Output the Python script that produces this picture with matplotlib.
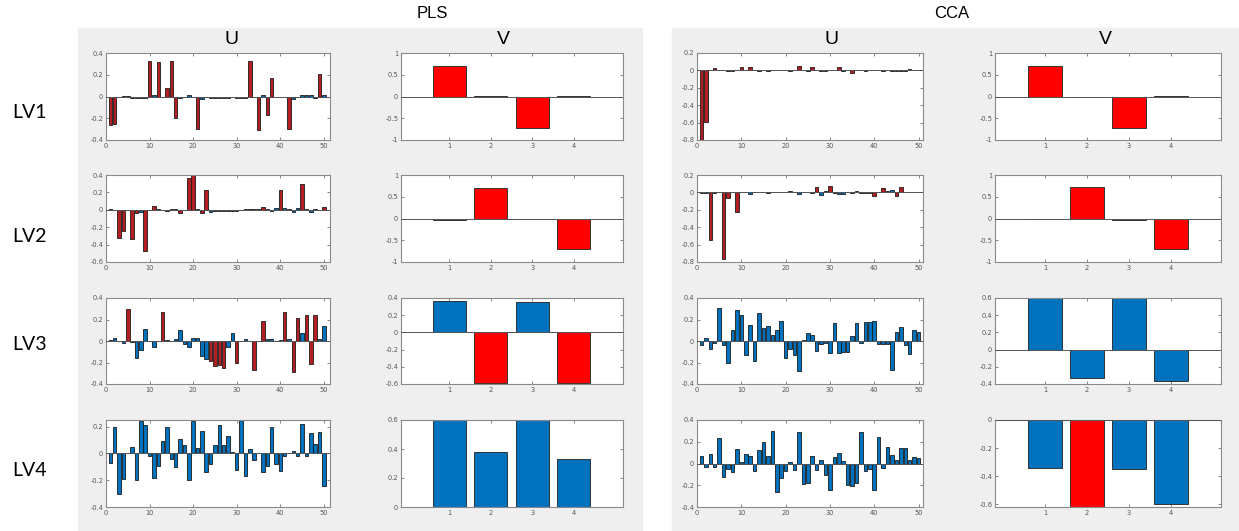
import numpy as np
import matplotlib.pyplot as plt
from matplotlib.patches import Rectangle
from matplotlib.ticker import FuncFormatter

# ---- data ----
idx = np.arange(1, 51)
comp = np.arange(1, 5)

pls_u1 = [-0.26, -0.25, 0.0, 0.005, 0.005, -0.01, -0.01, -0.01, -0.01, 0.33,
          0.01, 0.32, 0.0, 0.08, 0.33, -0.2, -0.01, 0.0, 0.01, 0.0,
          -0.30, -0.02, -0.005, -0.01, -0.01, -0.01, -0.01, -0.01, 0.0, -0.01,
          -0.01, -0.01, 0.33, 0.0, -0.31, 0.01, -0.17, 0.17, 0.0, 0.0,
          0.0, -0.30, -0.02, 0.0, 0.01, 0.01, 0.01, -0.01, 0.21, 0.01]
pls_u2 = [0.01, 0.0, -0.32, -0.24, 0.0, -0.34, -0.04, -0.02, -0.47, 0.0,
          0.04, 0.01, 0.0, -0.01, 0.01, 0.01, -0.04, 0.0, 0.36, 0.40,
          0.01, -0.04, 0.23, -0.02, -0.01, -0.01, -0.01, -0.01, -0.01, -0.01,
          0.0, 0.01, 0.01, 0.01, 0.01, 0.03, 0.01, -0.01, 0.02, 0.23,
          0.02, 0.01, -0.02, 0.02, 0.30, 0.01, -0.02, 0.01, 0.0, 0.03]
pls_u3 = [0.01, 0.03, 0.0, -0.02, 0.30, -0.01, -0.16, -0.08, 0.11, 0.0,
          -0.06, 0.0, 0.27, 0.01, 0.0, 0.02, 0.10, -0.03, -0.06, 0.03,
          0.03, -0.14, -0.17, -0.19, -0.23, -0.22, -0.25, -0.06, 0.07, -0.20,
          0.0, 0.02, 0.0, -0.27, 0.0, 0.19, 0.02, 0.02, 0.0, 0.01,
          0.27, 0.02, -0.29, 0.21, 0.07, 0.24, -0.21, 0.24, 0.02, 0.14]
pls_u4 = [-0.07, 0.20, -0.30, -0.19, 0.0, 0.05, -0.20, 0.24, 0.21, -0.02,
          -0.18, -0.09, 0.09, 0.20, -0.04, -0.10, 0.11, 0.06, -0.20, 0.24,
          0.04, 0.17, -0.14, -0.08, 0.06, 0.21, 0.06, 0.13, 0.01, -0.12,
          0.25, -0.17, 0.03, -0.05, 0.0, -0.14, -0.09, 0.20, -0.08, -0.13,
          -0.02, 0.0, 0.02, -0.02, 0.22, -0.02, 0.15, 0.07, 0.16, -0.24]
cca_u1 = [-0.80, -0.59, 0.01, 0.03, 0.01, 0.0, -0.01, -0.01, 0.01, 0.04,
          0.01, 0.04, 0.01, -0.01, 0.0, -0.01, 0.0, 0.01, 0.01, 0.0,
          -0.01, 0.0, 0.05, 0.0, -0.01, 0.04, 0.0, -0.01, -0.01, 0.0,
          0.01, 0.04, -0.01, 0.0, -0.03, 0.01, 0.0, -0.01, 0.0, 0.01,
          0.0, -0.01, 0.01, -0.01, -0.01, -0.01, -0.01, 0.02, 0.0, 0.0]
cca_u2 = [-0.01, -0.01, -0.55, -0.01, 0.0, -0.77, -0.07, 0.01, -0.23, 0.01,
          0.01, -0.02, 0.01, 0.01, 0.0, -0.01, 0.0, 0.01, 0.0, 0.0,
          0.02, 0.0, -0.02, 0.0, 0.0, -0.01, 0.06, -0.03, 0.02, 0.07,
          -0.01, -0.02, -0.02, 0.01, -0.01, 0.02, -0.01, -0.01, -0.01, -0.04,
          0.01, 0.05, 0.02, 0.03, -0.04, 0.06, 0.01, 0.01, 0.0, 0.0]
cca_u3 = [-0.04, 0.03, -0.07, -0.02, 0.31, -0.04, -0.20, 0.10, 0.29, 0.24,
          -0.13, 0.15, -0.19, 0.26, 0.12, 0.14, 0.06, 0.10, 0.19, -0.16,
          -0.07, -0.13, -0.28, 0.01, 0.07, 0.06, -0.09, -0.03, -0.02, -0.11,
          0.17, -0.11, -0.10, -0.10, 0.05, 0.17, -0.02, 0.18, 0.18, 0.19,
          -0.03, -0.03, -0.03, -0.27, 0.08, 0.13, -0.04, -0.12, 0.10, 0.08]
cca_u4 = [0.07, -0.03, 0.09, -0.03, 0.23, -0.12, -0.05, -0.08, 0.13, 0.01,
          0.09, 0.07, -0.07, 0.12, 0.20, 0.07, 0.30, -0.26, -0.13, -0.07,
          0.01, -0.06, 0.29, -0.19, -0.18, 0.07, -0.06, 0.03, -0.11, -0.24,
          0.06, 0.10, 0.02, -0.20, -0.21, -0.18, 0.29, -0.07, -0.05, -0.24,
          0.24, -0.04, 0.15, 0.08, 0.03, 0.14, 0.14, 0.03, 0.06, 0.05]

pls_v = [[0.71, 0.02, -0.72, 0.005],
         [-0.04, 0.71, -0.02, -0.71],
         [0.37, -0.59, 0.35, -0.59],
         [0.60, 0.38, 0.60, 0.33]]
cca_v = [[0.71, 0.0, -0.73, 0.01],
         [-0.01, 0.72, -0.03, -0.71],
         [0.60, -0.33, 0.60, -0.37],
         [-0.34, -0.62, -0.35, -0.60]]

# indices of highlighted (red) bars
pls_u_red = [[1, 2, 10, 12, 14, 15, 16, 21, 33, 35, 37, 38, 42, 49],
             [3, 4, 6, 7, 9, 11, 17, 19, 20, 22, 23, 36, 40, 45, 50],
             [5, 13, 24, 25, 26, 27, 30, 34, 36, 41, 43, 44, 46, 47, 48],
             []]
cca_u_red = [[1, 2, 4, 10, 12, 23, 26, 32, 35],
             [3, 6, 7, 9, 27, 30, 40, 42, 45, 46],
             [], []]
pls_v_red = [[1, 3], [2, 4], [2, 4], []]
cca_v_red = [[1, 3], [2, 4], [], [2]]

pls_u = [pls_u1, pls_u2, pls_u3, pls_u4]
cca_u = [cca_u1, cca_u2, cca_u3, cca_u4]

pls_u_ylim = [(-0.4, 0.4), (-0.6, 0.4), (-0.4, 0.4), (-0.4, 0.25)]
pls_u_yt = [[-0.4, -0.2, 0, 0.2, 0.4], [-0.6, -0.4, -0.2, 0, 0.2, 0.4],
            [-0.4, -0.2, 0, 0.2, 0.4], [-0.4, -0.2, 0, 0.2]]
cca_u_ylim = [(-0.8, 0.2), (-0.8, 0.2), (-0.4, 0.4), (-0.4, 0.4)]
cca_u_yt = [[-0.8, -0.6, -0.4, -0.2, 0, 0.2], [-0.8, -0.6, -0.4, -0.2, 0, 0.2],
            [-0.4, -0.2, 0, 0.2, 0.4], [-0.4, -0.2, 0, 0.2, 0.4]]
pls_v_ylim = [(-1, 1), (-1, 1), (-0.6, 0.4), (0, 0.6)]
pls_v_yt = [[-1, -0.5, 0, 0.5, 1], [-1, -0.5, 0, 0.5, 1],
            [-0.6, -0.4, -0.2, 0, 0.2, 0.4], [0, 0.2, 0.4, 0.6]]
cca_v_ylim = [(-1, 1), (-1, 1), (-0.4, 0.6), (-0.62, 0)]
cca_v_yt = [[-1, -0.5, 0, 0.5, 1], [-1, -0.5, 0, 0.5, 1],
            [-0.4, -0.2, 0, 0.2, 0.4, 0.6], [-0.6, -0.4, -0.2, 0]]

# ---- layout ----
W, H = 1239, 531
BLUE = "#0072BD"
RED_U = "#B21E22"
RED_V = "#FF0000"
BG = "#EFEFEF"

fig = plt.figure(figsize=(W / 100, H / 100), dpi=100)
fig.patch.set_facecolor("white")

def box(x0, y0, x1, y1):
    return [x0 / W, 1 - y1 / H, (x1 - x0) / W, (y1 - y0) / H]

# grey panels behind the axes
fig.patches.append(Rectangle((78 / W, 0), (642 - 78) / W, 1 - 28 / H,
                             transform=fig.transFigure, color=BG, zorder=-5))
fig.patches.append(Rectangle((672 / W, 0), (W - 672) / W, 1 - 28 / H,
                             transform=fig.transFigure, color=BG, zorder=-5))

rows = [(53, 140), (175, 262), (298, 384), (420, 507)]
fmt = FuncFormatter(lambda v, p: f"{v:g}")


def style(ax, yl, yt):
    ax.set_ylim(*yl)
    ax.set_yticks(yt)
    ax.yaxis.set_major_formatter(fmt)
    ax.tick_params(direction="in", length=2, width=0.5, labelsize=4.8,
                   colors="#555555", top=True, right=True, pad=2)
    for s in ax.spines.values():
        s.set_color("#8a8a8a")
        s.set_linewidth(0.8)
    ax.axhline(0, color="#555555", lw=0.7, zorder=3)


def u_panel(x0, x1, r, vals, red, yl, yt, xmax):
    ax = fig.add_axes(box(x0, rows[r][0], x1, rows[r][1]))
    cols = [RED_U if i in red else BLUE for i in idx]
    ax.bar(idx, vals, width=0.8, color=cols, edgecolor="#1a1a1a", linewidth=0.6, zorder=2)
    ax.set_xlim(0, xmax)
    ax.set_xticks([0, 10, 20, 30, 40, 50])
    style(ax, yl, yt)


def v_panel(x0, x1, r, vals, red, yl, yt, xl):
    ax = fig.add_axes(box(x0, rows[r][0], x1, rows[r][1]))
    cols = [RED_V if i in red else BLUE for i in comp]
    ax.bar(comp, vals, width=0.8, color=cols, edgecolor="#333333", linewidth=0.7, zorder=2)
    ax.set_xlim(*xl)
    ax.set_xticks([1, 2, 3, 4])
    style(ax, yl, yt)


for r in range(4):
    u_panel(106, 330, r, pls_u[r], pls_u_red[r], pls_u_ylim[r], pls_u_yt[r], 51.4)
    v_panel(401, 623, r, pls_v[r], pls_v_red[r], pls_v_ylim[r], pls_v_yt[r], (-0.17, 5.19))
    u_panel(697, 923, r, cca_u[r], cca_u_red[r], cca_u_ylim[r], cca_u_yt[r], 51.0)
    v_panel(995, 1221, r, cca_v[r], cca_v_red[r], cca_v_ylim[r], cca_v_yt[r], (-0.2, 5.2))

# ---- labels ----
fig.text(432 / W, 1 - 13 / H, "PLS", ha="center", va="center", fontsize=12,
         family="Liberation Sans")
fig.text(952 / W, 1 - 13 / H, "CCA", ha="center", va="center", fontsize=12,
         family="Liberation Sans")
for xu, lab in [(232, "U"), (503, "V"), (832, "U"), (1105, "V")]:
    fig.text(xu / W, 1 - 40 / H, lab, ha="center", va="center", fontsize=14,
             family="Liberation Sans")
for yl, lab in zip([112, 236, 345, 470], ["LV1", "LV2", "LV3", "LV4"]):
    fig.text(30 / W, 1 - yl / H, lab, ha="center", va="center", fontsize=14,
             family="Lato")

fig.savefig("out.png", dpi=100)
